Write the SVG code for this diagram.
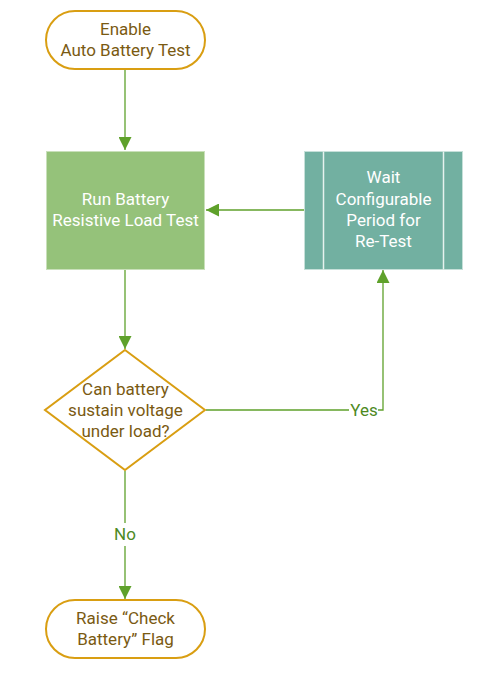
<svg xmlns="http://www.w3.org/2000/svg" width="483" height="678" viewBox="0 0 483 678">
<defs>
<style>
.term{fill:#ffffff;stroke:#D99E12;stroke-width:2}
.dec{fill:#ffffff;stroke:#D99E12;stroke-width:2}
.t{font-family:Roboto,"Liberation Sans",sans-serif;font-size:17px;text-anchor:middle}
.dark{fill:#7A5A12}
.light{fill:#ffffff}
.conn{fill:none;stroke:#5FA12B;stroke-width:1.3}
.lbl{font-family:Roboto,"Liberation Sans",sans-serif;font-size:17px;text-anchor:middle;fill:#4E8A1F}
</style>
<marker id="ah" viewBox="0 0 10 10" refX="10" refY="5" markerWidth="13" markerHeight="13" markerUnits="userSpaceOnUse" orient="auto">
<path d="M0,0 L10,5 L0,10 z" fill="#5FA12B"/>
</marker>
</defs>
<g id="connectors">
<path class="conn" d="M125,70 V150" marker-end="url(#ah)"/>
<path class="conn" d="M304,210 H206" marker-end="url(#ah)"/>
<path class="conn" d="M125,269 V349" marker-end="url(#ah)"/>
<path class="conn" d="M206,410 H349 M378,410 H383 V270" marker-end="url(#ah)"/>
<path class="conn" d="M125,471 V523 M125,546 V599" marker-end="url(#ah)"/>
<text class="lbl" x="364" y="416">Yes</text>
<text class="lbl" x="125" y="540">No</text>
</g>
<g id="start">
<rect class="term" x="46" y="11" width="159" height="58" rx="29" ry="29"/>
<text class="t dark" x="125.5" y="35">Enable</text>
<text class="t dark" x="125.5" y="56">Auto Battery Test</text>
</g>
<g id="run-test">
<rect x="46.5" y="151.5" width="158" height="118" fill="#95C27A" stroke="#C9E0BA" stroke-width="1"/>
<text class="t light" x="125.5" y="205">Run Battery</text>
<text class="t light" x="125.5" y="226">Resistive Load Test</text>
</g>
<g id="wait">
<rect x="304.5" y="151.5" width="158" height="118" fill="#72B0A1" stroke="#C6E0D9" stroke-width="1"/>
<line x1="323.5" y1="151.5" x2="323.5" y2="269.5" stroke="#E6F2EE" stroke-width="1.5"/>
<line x1="443.5" y1="151.5" x2="443.5" y2="269.5" stroke="#E6F2EE" stroke-width="1.5"/>
<text class="t light" x="383.5" y="183">Wait</text>
<text class="t light" x="383.5" y="205">Configurable</text>
<text class="t light" x="383.5" y="226">Period for</text>
<text class="t light" x="383.5" y="247">Re-Test</text>
</g>
<g id="decision">
<polygon class="dec" points="125,350 205,410 125,470 45,410"/>
<text class="t dark" x="125.5" y="395">Can battery</text>
<text class="t dark" x="125.5" y="416">sustain voltage</text>
<text class="t dark" x="125.5" y="437">under load?</text>
</g>
<g id="end">
<rect class="term" x="46" y="600" width="159" height="58" rx="29" ry="29"/>
<text class="t dark" x="125.5" y="624">Raise “Check</text>
<text class="t dark" x="125.5" y="645">Battery” Flag</text>
</g>
</svg>
